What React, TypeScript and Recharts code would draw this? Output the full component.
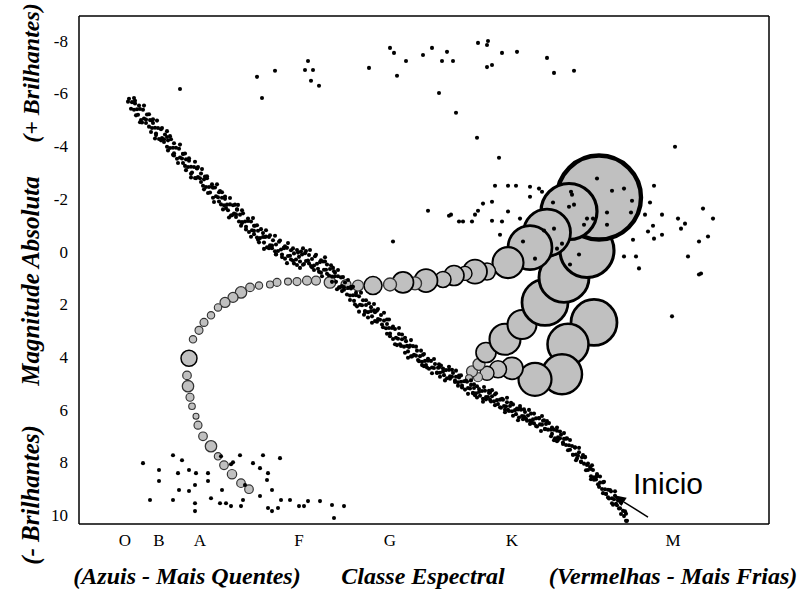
import React from 'react';
import { ScatterChart, Scatter, XAxis, YAxis, Customized } from 'recharts';

// Spectral classes and where they sit on the horizontal (spectral) scale
const SPECTRAL_CLASSES = ['O', 'B', 'A', 'F', 'G', 'K', 'M'];
const SPECTRAL_POS = [46, 80, 121, 220, 311, 433, 594];
const X_DOMAIN: [number, number] = [0, 690];

// Absolute magnitude axis (brighter upwards)
const MAG_TICKS = [-8, -6, -4, -2, 0, 2, 4, 6, 8, 10];
const MAG_MINOR = [-7, -5, -3, -1, 1, 3, 5, 7, 9];
const MAG_DOMAIN: [number, number] = [-8.94, 10.34];

// Main sequence stars [spectral position, absolute magnitude]
const SEQUENCIA_PRINCIPAL: [number, number][] = [
  [49, -5.69], [50, -5.8], [52, -5.42], [53, -5.67], [55, -5.38], [56, -5.72], [58, -5.4], [59, -5.19], [61, -5.41], [62, -4.99],
  [64, -5.38], [65, -5.05], [67, -5.01], [68, -5.2], [70, -4.74], [71, -4.99], [73, -4.69], [74, -5.02], [76, -4.7], [77, -4.48],
  [79, -4.69], [80, -4.27], [82, -4.64], [83, -4.31], [85, -4.26], [86, -4.44], [88, -3.98], [89, -4.22], [91, -3.93], [92, -4.26],
  [94, -3.94], [95, -3.73], [97, -3.94], [98, -3.52], [100, -3.9], [101, -3.57], [103, -3.53], [104, -3.71], [106, -3.25], [107, -3.5],
  [109, -3.21], [110, -3.54], [112, -3.22], [113, -3.0], [115, -3.21], [116, -2.79], [118, -3.16], [119, -2.83], [121, -2.78], [122, -2.96],
  [124, -2.5], [125, -2.74], [127, -2.45], [128, -2.78], [130, -2.45], [131, -2.24], [133, -2.46], [134, -2.04], [136, -2.43], [137, -2.1],
  [139, -2.06], [140, -2.25], [142, -1.79], [143, -2.04], [145, -1.76], [146, -2.09], [148, -1.78], [149, -1.57], [151, -1.79], [152, -1.37],
  [154, -1.76], [155, -1.44], [157, -1.41], [158, -1.59], [160, -1.14], [161, -1.4], [163, -1.12], [164, -1.45], [166, -1.14], [167, -0.94],
  [169, -1.16], [170, -0.74], [172, -1.14], [173, -0.81], [175, -0.79], [176, -0.98], [178, -0.53], [179, -0.79], [181, -0.51], [182, -0.85],
  [184, -0.55], [185, -0.34], [187, -0.57], [188, -0.16], [190, -0.55], [191, -0.24], [193, -0.23], [194, -0.43], [196, -0.01], [197, -0.27],
  [199, -0.02], [200, -0.37], [202, -0.08], [203, 0.11], [205, -0.13], [206, 0.27], [208, -0.14], [209, 0.17], [211, 0.16], [212, -0.05],
  [214, 0.35], [215, 0.07], [217, 0.3], [218, -0.06], [220, 0.2], [221, 0.38], [223, 0.11], [224, 0.5], [226, 0.06], [227, 0.36],
  [229, 0.34], [230, 0.13], [232, 0.55], [233, 0.28], [235, 0.53], [236, 0.18], [238, 0.46], [239, 0.65], [241, 0.4], [242, 0.8],
  [244, 0.38], [245, 0.69], [247, 0.69], [248, 0.49], [250, 0.91], [251, 0.66], [253, 0.95], [254, 0.62], [256, 0.94], [257, 1.15],
  [259, 0.94], [260, 1.36], [262, 0.98], [263, 1.31], [265, 1.35], [266, 1.17], [268, 1.63], [269, 1.38], [271, 1.67], [272, 1.34],
  [274, 1.66], [275, 1.87], [277, 1.66], [278, 2.08], [280, 1.7], [281, 2.02], [283, 2.04], [284, 1.85], [286, 2.29], [287, 2.03],
  [289, 2.3], [290, 1.96], [292, 2.26], [293, 2.46], [295, 2.23], [296, 2.64], [298, 2.24], [299, 2.56], [301, 2.59], [302, 2.41],
  [304, 2.87], [305, 2.62], [307, 2.91], [308, 2.58], [310, 2.9], [311, 3.11], [313, 2.9], [314, 3.32], [316, 2.94], [317, 3.27],
  [319, 3.31], [320, 3.13], [322, 3.58], [323, 3.33], [325, 3.61], [326, 3.27], [328, 3.58], [329, 3.79], [331, 3.57], [332, 3.98],
  [334, 3.59], [335, 3.92], [337, 3.95], [338, 3.76], [340, 4.16], [341, 3.97], [343, 4.18], [344, 3.92], [346, 4.15], [347, 4.31],
  [349, 4.14], [350, 4.45], [352, 4.15], [353, 4.4], [355, 4.42], [356, 4.27], [358, 4.61], [359, 4.41], [361, 4.6], [362, 4.33],
  [364, 4.55], [365, 4.69], [367, 4.5], [368, 4.81], [370, 4.49], [371, 4.73], [373, 4.75], [374, 4.61], [376, 4.95], [377, 4.75],
  [379, 4.96], [380, 4.71], [382, 4.94], [383, 5.09], [385, 4.92], [386, 5.24], [388, 4.94], [389, 5.18], [391, 5.2], [392, 5.06],
  [394, 5.38], [395, 5.18], [397, 5.38], [398, 5.11], [400, 5.33], [401, 5.47], [403, 5.29], [404, 5.59], [406, 5.28], [407, 5.52],
  [409, 5.52], [410, 5.37], [412, 5.69], [413, 5.49], [415, 5.68], [416, 5.42], [418, 5.64], [419, 5.79], [421, 5.62], [422, 5.93],
  [424, 5.62], [425, 5.86], [427, 5.87], [428, 5.72], [430, 6.05], [431, 5.86], [433, 6.06], [434, 5.8], [436, 6.02], [437, 6.17],
  [439, 5.99], [440, 6.3], [442, 6.0], [443, 6.24], [445, 6.25], [446, 6.09], [448, 6.42], [449, 6.22], [451, 6.41], [452, 6.15],
  [454, 6.37], [455, 6.52], [457, 6.33], [458, 6.64], [460, 6.33], [461, 6.56], [463, 6.57], [464, 6.42], [466, 6.74], [467, 6.54],
  [469, 6.76], [470, 6.51], [472, 6.76], [473, 6.92], [475, 6.76], [476, 7.09], [478, 6.8], [479, 7.05], [481, 7.09], [482, 6.95],
  [484, 7.3], [485, 7.11], [487, 7.34], [488, 7.09], [490, 7.35], [491, 7.52], [493, 7.38], [494, 7.71], [496, 7.44], [497, 7.7],
  [499, 7.75], [500, 7.62], [502, 7.99], [503, 7.81], [505, 8.05], [506, 7.81], [508, 8.1], [509, 8.29], [511, 8.18], [512, 8.53],
  [514, 8.29], [515, 8.57], [517, 8.65], [518, 8.53], [520, 8.93], [521, 8.77], [523, 9.01], [524, 8.76], [526, 9.02], [527, 9.19],
  [529, 9.04], [530, 9.37], [532, 9.1], [533, 9.36], [535, 9.4], [536, 9.27], [538, 9.63], [539, 9.45], [541, 9.74], [542, 9.53],
  [544, 9.84], [545, 10.04], [547, 9.95], [548, 10.22],
  [56, -5.62], [63, -4.9], [74, -4.88], [77, -4.42], [88, -4.35], [95, -3.65], [104, -3.7], [112, -2.95], [118, -3.15], [126, -2.85],
  [134, -2.42], [143, -2.25], [147, -1.65], [158, -1.6], [163, -1.08], [175, -0.98], [179, -0.45], [186, -0.55], [197, 0.1], [205, -0.15],
  [215, 0.45], [222, 0.0], [233, 0.6], [246, 0.38], [256, 0.8], [263, 1.5], [272, 1.4], [285, 2.4], [296, 2.3], [308, 2.75],
  [318, 3.55], [330, 3.62], [345, 4.35], [360, 4.4], [380, 4.78], [396, 5.45], [411, 5.35], [426, 6.0], [441, 5.95], [453, 6.5],
  [465, 6.4], [478, 7.2], [487, 7.1], [498, 7.85], [504, 7.72], [512, 8.25], [518, 8.5], [527, 9.2], [533, 9.55], [540, 9.75],
];

// Main sequence stars scattered towards the edges of the band
const SEQUENCIA_BORDAS: [number, number][] = [
  [55, -5.83], [57, -5.17], [60, -5.54], [61, -4.91], [65, -5.54], [67, -4.88], [70, -5.21], [72, -4.54], [73, -4.97], [76, -4.29],
  [78, -4.97], [82, -4.22], [83, -4.69], [85, -4.16], [88, -4.57], [89, -3.84], [91, -4.38], [94, -3.67], [95, -4.11], [99, -3.36],
  [101, -4.06], [104, -3.36], [106, -3.72], [107, -3.09], [110, -3.45], [112, -2.81], [116, -3.41], [117, -2.78], [119, -3.21], [122, -2.64],
  [123, -3.13], [125, -2.36], [128, -2.86], [129, -2.22], [133, -2.55], [135, -1.88], [138, -2.55], [140, -1.9], [141, -2.3], [144, -1.6],
  [146, -2.0], [150, -1.29], [151, -2.03], [153, -1.38], [156, -1.78], [157, -1.31], [159, -1.77], [162, -0.98], [163, -1.57], [167, -0.84],
  [169, -1.25], [172, -0.56], [174, -1.27], [175, -0.66], [178, -1.0], [180, -0.35], [184, -0.7], [185, -0.1], [187, -0.81], [190, -0.13],
  [191, -0.62], [193, -0.13], [196, -0.6], [197, 0.11], [201, -0.42], [203, 0.21], [206, -0.2], [208, 0.44], [209, -0.32], [212, 0.3],
  [214, -0.12], [218, 0.51], [219, 0.04], [221, 0.62], [224, -0.12], [225, 0.47], [227, -0.02], [230, 0.45], [231, -0.06], [235, 0.7],
  [237, 0.12], [240, 0.77], [242, 0.33], [243, 0.94], [246, 0.22], [248, 0.84], [252, 0.52], [253, 1.15], [255, 0.75], [258, 1.43],
  [259, 0.7], [261, 1.36], [264, 0.97], [265, 1.45], [269, 1.08], [271, 1.84], [274, 1.34], [276, 2.01], [277, 1.57], [280, 2.28],
  [282, 1.56], [286, 2.26], [287, 1.85], [289, 2.5], [292, 2.11], [293, 2.7], [295, 1.99], [298, 2.66], [299, 2.18], [303, 2.77],
  [305, 2.32], [308, 3.12], [310, 2.58], [311, 3.21], [314, 2.85], [316, 3.52], [320, 2.9], [321, 3.52], [323, 3.15], [326, 3.84],
  [327, 3.4], [329, 4.03], [332, 3.36], [333, 3.98], [337, 3.61], [339, 4.12], [342, 3.76], [343, 4.31], [345, 3.89], [348, 4.4],
  [349, 4.07], [353, 4.62], [355, 4.08], [358, 4.59], [360, 4.28], [361, 4.75], [364, 4.44], [366, 4.89], [370, 4.37], [371, 4.83],
  [373, 4.49], [376, 4.9], [377, 4.52], [379, 5.09], [382, 4.7], [383, 5.16], [387, 4.9], [389, 5.4], [392, 4.89], [394, 5.36],
  [395, 5.04], [398, 5.54], [400, 5.22], [404, 5.7], [405, 5.14], [407, 5.61], [410, 5.28], [411, 5.62], [413, 5.26], [416, 5.83],
  [417, 5.38], [421, 5.91], [423, 5.59], [426, 6.1], [428, 5.55], [429, 6.01], [432, 5.74], [434, 6.23], [438, 5.96], [439, 6.4],
  [441, 5.86], [444, 6.36], [445, 5.99], [447, 6.35], [450, 6.01], [451, 6.54], [455, 6.15], [457, 6.62], [460, 6.32], [462, 6.81],
  [463, 6.24], [466, 6.73], [468, 6.43], [472, 7.01], [473, 6.68], [475, 7.16], [478, 6.68], [479, 7.15], [481, 6.83], [484, 7.25],
  [485, 6.89], [489, 7.54], [491, 7.15], [494, 7.71], [496, 7.43], [497, 7.92], [500, 7.45], [502, 7.97], [506, 7.79], [507, 8.3],
  [509, 8.05], [512, 8.64], [513, 8.11], [515, 8.66], [518, 8.44], [519, 8.83], [521, 8.54], [524, 9.17], [525, 8.74], [529, 9.33],
  [531, 9.05], [534, 9.61], [536, 9.1], [537, 9.57], [540, 9.38], [542, 9.96], [546, 9.86], [547, 10.22],
];

// Supergiants (top of the diagram)
const SUPERGIGANTES: [number, number][] = [
  [101, -6.17], [178, -6.63], [183, -5.83], [196, -6.86], [229, -7.23], [226, -6.89], [234, -6.89], [232, -6.48], [240, -6.29],
  [290, -6.97], [311, -7.73], [315, -7.54], [327, -7.23], [318, -6.67], [344, -7.46], [353, -7.73], [363, -7.23], [368, -7.58],
  [360, -6.02], [374, -7.23], [399, -7.92], [409, -7.99], [408, -7.84], [423, -7.54], [438, -7.58], [408, -7.0], [413, -7.08],
  [468, -7.35], [475, -6.78], [495, -6.86], [377, -5.27], [398, -4.32], [420, -3.56], [596, -3.98],
];

// Giants (K and M region)
const GIGANTES: [number, number][] = [
  [416, -2.5], [429, -2.5], [437, -2.5], [451, -2.46], [460, -2.39], [463, -2.27], [451, -2.08], [404, -1.82], [413, -1.89],
  [399, -1.55], [396, -1.4], [372, -1.4], [380, -1.14], [384, -1.14], [393, -1.14], [413, -1.17], [423, -1.14], [429, -1.52],
  [441, -1.25], [421, -0.64], [444, -0.38], [456, 0.27], [474, -1.86], [490, -1.7], [495, -1.78], [492, -2.27], [493, -2.16],
  [518, -2.77], [533, -2.31], [545, -2.39], [553, -1.93], [528, -1.48], [552, -1.48], [508, -1.25], [514, -1.25], [505, -1.02],
  [528, -1.02], [475, -0.87], [465, -0.8], [483, -0.3], [478, -0.11], [500, 0.11], [491, 0.49], [575, -2.5], [571, -1.86],
  [566, -1.4], [583, -1.4], [574, -0.98], [569, -0.76], [575, -0.49], [583, -0.64], [554, -0.45], [545, 0.19], [557, 0.19],
  [560, 0.64], [599, -1.25], [606, -1.06], [602, -0.87], [624, -1.63], [634, -1.25], [629, -0.57], [620, -0.38], [609, 0.19],
  [620, 0.87], [622, 0.83], [593, 2.46], [349, -1.55], [314, -0.38], [370, -1.36],
];

// White dwarfs (bottom left)
const ANAS_BRANCAS: [number, number][] = [
  [64, 8.03], [80, 8.29], [80, 8.71], [71, 9.43], [94, 7.73], [103, 7.92], [99, 8.41], [110, 8.29], [117, 8.41], [129, 8.41],
  [129, 8.71], [116, 8.86], [100, 9.05], [110, 9.09], [94, 9.43], [116, 9.55], [116, 9.85], [132, 9.36], [143, 9.05], [141, 9.55],
  [147, 9.55], [152, 9.66], [162, 9.66], [164, 9.43], [142, 7.77], [154, 8.0], [152, 8.07], [161, 7.73], [166, 8.86], [174, 8.03],
  [181, 8.22], [184, 7.73], [189, 8.41], [188, 8.67], [193, 9.05], [201, 7.84], [181, 9.28], [189, 9.73], [193, 9.85], [199, 9.73],
  [202, 9.43], [211, 9.43], [220, 9.66], [225, 9.66], [229, 9.47], [241, 9.47], [253, 9.62], [265, 9.66], [255, 10.11],
];

// Contraction towards the main sequence [spectral position, magnitude, relative radius]
const TRAJETO_CONTRACAO: [number, number, number][] = [
  [515, 2.69, 23], [489, 3.52, 20.5], [483, 4.66, 20], [456, 4.85, 16.5], [433, 4.43, 11], [419, 4.47, 8.5],
  [408, 4.62, 7], [399, 4.77, 4.5], [393, 4.55, 5.5], [390, 4.81, 3.5],
];

// Evolution after the main sequence: giant branch, horizontal branch and descent to white dwarf
const TRAJETO_EVOLUCAO: [number, number, number][] = [
  [400, 4.28, 6], [407, 3.83, 10], [426, 3.33, 15.5], [443, 2.77, 14.5], [466, 1.93, 23], [485, 0.98, 25], [508, -0.04, 27],
  [520, -2.05, 42], [490, -1.52, 28], [468, -0.72, 23.5], [451, -0.15, 22], [429, 0.42, 15.5], [408, 0.76, 8.5], [396, 0.76, 12],
  [386, 0.83, 7], [375, 0.91, 10], [364, 1.06, 8], [347, 1.1, 11.5], [336, 1.21, 6.5], [324, 1.17, 10.5], [311, 1.25, 6.5],
  [294, 1.29, 9], [279, 1.29, 5.5], [267, 1.25, 5], [251, 1.17, 5.8], [237, 1.1, 4.5], [228, 1.1, 4.5], [218, 1.14, 4],
  [209, 1.14, 3.5], [198, 1.17, 4], [191, 1.25, 3.5], [180, 1.29, 3.7], [171, 1.36, 4.3], [162, 1.55, 5.7], [154, 1.74, 5],
  [146, 1.93, 5], [139, 2.12, 3.7], [132, 2.42, 3.7], [125, 2.69, 4], [120, 2.99, 4], [114, 3.33, 3.7], [110, 4.05, 8],
  [108, 4.7, 4.3], [109, 5.11, 5.7], [111, 5.53, 4], [113, 5.87, 3.3], [117, 6.25, 3], [119, 6.59, 4], [124, 7.01, 4.3],
  [132, 7.39, 5.7], [139, 7.77, 3.7], [145, 8.11, 4.3], [153, 8.45, 4.7], [162, 8.79, 4.3], [170, 9.02, 4.3],
];

// Starting point marked with the arrow
const INICIO: [number, number] = [534, 9.24];

const SERIF = "'Liberation Serif', 'Times New Roman', Times, serif";
const SANS = "'Liberation Sans', Arial, Helvetica, sans-serif";

const pontos = (arr: [number, number][]) => arr.map(([x, m]) => ({ x, m }));
const estrelas = (arr: [number, number, number][]) => arr.map(([x, m, raio]) => ({ x, m, raio }));

const Ponto = (props: any) => {
  const { cx, cy } = props;
  if (cx == null || cy == null) return <g />;
  return <circle cx={cx} cy={cy} r={2.05} fill="#000" />;
};

const Estrela = (props: any) => {
  const { cx, cy, payload } = props;
  if (cx == null || cy == null) return <g />;
  const r = payload.raio;
  return (
    <circle
      cx={cx}
      cy={cy}
      r={r}
      fill="#c0c0c0"
      stroke={r < 7 ? '#333' : '#000'}
      strokeWidth={0.8 + r * 0.085}
    />
  );
};

const MarcaInicio = (props: any) => {
  const { cx, cy } = props;
  if (cx == null || cy == null) return <g />;
  return (
    <g>
      <line x1={cx + 11} y1={cy + 7} x2={cx + 35} y2={cy + 22} stroke="#000" strokeWidth={1.5} />
      <polygon points={`${cx},${cy} ${cx + 8.3},${cy + 11.1} ${cx + 13.7},${cy + 2.7}`} fill="#000" />
      <text x={cx + 20} y={cy - 1} fontSize={30} fontFamily={SANS} fill="#000">
        Inicio
      </text>
    </g>
  );
};

const tituloEstilo = {
  fontFamily: SERIF,
  fontWeight: 'bold' as const,
  fontStyle: 'italic' as const,
  fill: '#000',
};

const Rotulos = () => (
  <g>
    <text transform="translate(39,73) rotate(-90)" textAnchor="middle" fontSize={24} {...tituloEstilo}>
      (+ Brilhantes)
    </text>
    <text transform="translate(39,281) rotate(-90)" textAnchor="middle" fontSize={25} {...tituloEstilo}>
      Magnitude Absoluta
    </text>
    <text transform="translate(39,495) rotate(-90)" textAnchor="middle" fontSize={25} {...tituloEstilo}>
      (- Brilhantes)
    </text>
    <text x={187} y={584} textAnchor="middle" fontSize={24} {...tituloEstilo}>
      (Azuis - Mais Quentes)
    </text>
    <text x={423} y={584} textAnchor="middle" fontSize={24} {...tituloEstilo}>
      Classe Espectral
    </text>
    <text x={673} y={584} textAnchor="middle" fontSize={24} {...tituloEstilo}>
      (Vermelhas - Mais Frias)
    </text>
  </g>
);

const eixoLinha = { stroke: '#000', strokeWidth: 1.5 };
const eixoTick = { stroke: '#000', strokeWidth: 1.2 };
const letraClasse = (v: number) => {
  const i = SPECTRAL_POS.indexOf(v);
  return i >= 0 ? SPECTRAL_CLASSES[i] : '';
};

export default function App() {
  return (
    <div style={{ position: 'absolute', left: 0, top: 0, width: 807, height: 592, background: '#fff' }}>
      <ScatterChart width={807} height={592} margin={{ top: 16, right: 38, bottom: 38, left: 49 }}>
        <XAxis
          xAxisId={0}
          type="number"
          dataKey="x"
          domain={X_DOMAIN}
          ticks={SPECTRAL_POS}
          interval={0}
          allowDataOverflow
          height={30}
          tickLine={false}
          tickSize={0}
          tickMargin={10}
          tickFormatter={letraClasse}
          axisLine={eixoLinha}
          tick={{ fill: '#000', fontSize: 17, fontFamily: SERIF }}
        />
        <XAxis
          xAxisId="xb"
          type="number"
          domain={X_DOMAIN}
          ticks={SPECTRAL_POS}
          interval={0}
          allowDataOverflow
          mirror
          tickSize={7}
          tick={false}
          axisLine={false}
          tickLine={eixoTick}
        />
        <XAxis
          xAxisId="xt"
          orientation="top"
          type="number"
          domain={X_DOMAIN}
          ticks={SPECTRAL_POS}
          interval={0}
          allowDataOverflow
          mirror
          tickSize={9}
          tick={false}
          axisLine={eixoLinha}
          tickLine={eixoTick}
        />
        <YAxis
          yAxisId={0}
          type="number"
          dataKey="m"
          domain={MAG_DOMAIN}
          reversed
          ticks={MAG_TICKS}
          interval={0}
          allowDataOverflow
          width={30}
          tickLine={false}
          tickSize={0}
          tickMargin={11}
          axisLine={eixoLinha}
          tick={{ fill: '#000', fontSize: 17, fontFamily: SERIF }}
        />
        <YAxis yAxisId="yl" type="number" domain={MAG_DOMAIN} reversed ticks={MAG_TICKS} interval={0} allowDataOverflow
          mirror tickSize={11} tick={false} axisLine={false} tickLine={eixoTick} />
        <YAxis yAxisId="ylm" type="number" domain={MAG_DOMAIN} reversed ticks={MAG_MINOR} interval={0} allowDataOverflow
          mirror tickSize={6} tick={false} axisLine={false} tickLine={eixoTick} />
        <YAxis yAxisId="yr" orientation="right" type="number" domain={MAG_DOMAIN} reversed ticks={MAG_TICKS} interval={0}
          allowDataOverflow mirror tickSize={11} tick={false} axisLine={eixoLinha} tickLine={eixoTick} />
        <YAxis yAxisId="yrm" orientation="right" type="number" domain={MAG_DOMAIN} reversed ticks={MAG_MINOR} interval={0}
          allowDataOverflow mirror tickSize={6} tick={false} axisLine={false} tickLine={eixoTick} />

        <Scatter data={estrelas(TRAJETO_CONTRACAO)} shape={Estrela} isAnimationActive={false} />
        <Scatter data={estrelas(TRAJETO_EVOLUCAO)} shape={Estrela} isAnimationActive={false} />
        <Scatter data={pontos(SEQUENCIA_PRINCIPAL)} shape={Ponto} isAnimationActive={false} />
        <Scatter data={pontos(SEQUENCIA_BORDAS)} shape={Ponto} isAnimationActive={false} />
        <Scatter data={pontos(SUPERGIGANTES)} shape={Ponto} isAnimationActive={false} />
        <Scatter data={pontos(GIGANTES)} shape={Ponto} isAnimationActive={false} />
        <Scatter data={pontos(ANAS_BRANCAS)} shape={Ponto} isAnimationActive={false} />
        <Scatter data={pontos([INICIO])} shape={MarcaInicio} isAnimationActive={false} />

        <Customized component={Rotulos} />
      </ScatterChart>
    </div>
  );
}
